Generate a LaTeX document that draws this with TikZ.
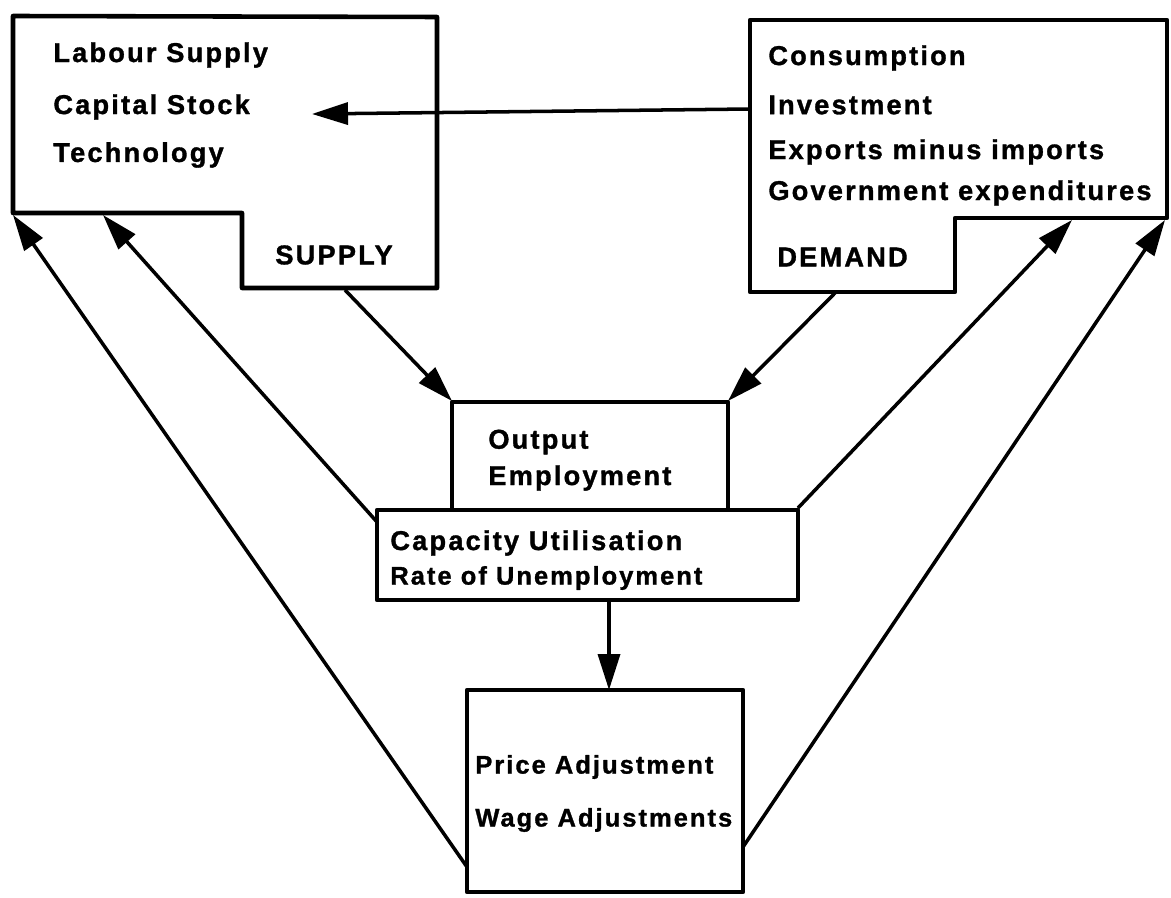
\documentclass[tikz,border=0pt]{standalone}
\usepackage{fontspec}
\setmainfont{Liberation Sans}[LetterSpace=8, BoldFeatures={FakeBold=1.2}]
\usetikzlibrary{arrows.meta}
\begin{document}
\begin{tikzpicture}[x=0.02cm, y=-0.02cm, line join=round,
    lbl/.style={anchor=west, inner sep=0pt, font=\bfseries\fontsize{15.5}{18}\selectfont},
    lbls/.style={lbl, font=\bfseries\fontsize{14.5}{17}\selectfont},
    box/.style={line width=2.6pt},
    arr/.style={line width=2pt, -{Triangle[length=0.72cm, width=0.44cm]}}]
    \useasboundingbox (0, 0) rectangle (1171, 898);
    % supply and demand blocks
    \draw[box] (13, 16)--(437, 17)--(437, 288)--(242, 288)--(242, 213)--(13, 213)--cycle;
    \draw[box] (750, 20)--(1167, 20)--(1167, 218)--(955, 218)--(955, 292)--(750, 292)--cycle;
    \node[lbl] (lab) at (53, 55) {Labour Supply};
    \node[lbl] (cap) at (53, 107) {Capital Stock};
    \node[lbl] (tec) at (53, 155) {Technology};
    \node[lbl] (sup) at (275, 255) {SUPPLY};
    \node[lbl] (con) at (768, 58) {Consumption};
    \node[lbl] (inv) at (768, 105) {Investment};
    \node[lbl] (exp) at (768, 152) {Exports minus imports};
    \node[lbl] (gov) at (768, 193) {Government expenditures};
    \node[lbl] (dem) at (777, 257) {DEMAND};
    % middle and bottom boxes
    \draw[box] (452, 510)--(452, 402)--(728, 402)--(728, 510);
    \draw[box] (377, 510) rectangle (798, 600);
    \draw[box] (467, 690) rectangle (743, 892);
    \node[lbl] (out) at (488, 442) {Output};
    \node[lbl] (emp) at (488, 478) {Employment};
    \node[lbl] (cu) at (390, 543) {Capacity Utilisation};
    \node[lbls] (ru) at (390, 578) {Rate of Unemployment};
    \node[lbls] (pa) at (475, 767) {Price Adjustment};
    \node[lbls] (wa) at (475, 820) {Wage Adjustments};
    % connector ends
    \coordinate (supA) at (13, 215);
    \coordinate (supB) at (103, 215);
    \coordinate (supC) at (345, 290);
    \coordinate (capT) at (312, 114);
    \coordinate (demL) at (750, 109);
    \coordinate (demA) at (835, 293);
    \coordinate (demB) at (1072, 220);
    \coordinate (demC) at (1165, 220);
    \coordinate (outL) at (452, 401);
    \coordinate (outR) at (728, 401);
    \coordinate (cuL) at (377, 522);
    \coordinate (cuR) at (798, 508);
    \coordinate (cuB) at (609, 601);
    \coordinate (prT) at (609, 690);
    \coordinate (prL) at (467, 867);
    \coordinate (prR) at (743, 847);
    \draw[arr] (demL)--(capT);
    \draw[arr] (supC)--(outL);
    \draw[arr] (demA)--(outR);
    \draw[arr] (cuB)--(prT);
    \draw[arr] (cuL)--(supB);
    \draw[arr] (prL)--(supA);
    \draw[arr] (cuR)--(demB);
    \draw[arr] (prR)--(demC);
\end{tikzpicture}
\end{document}
